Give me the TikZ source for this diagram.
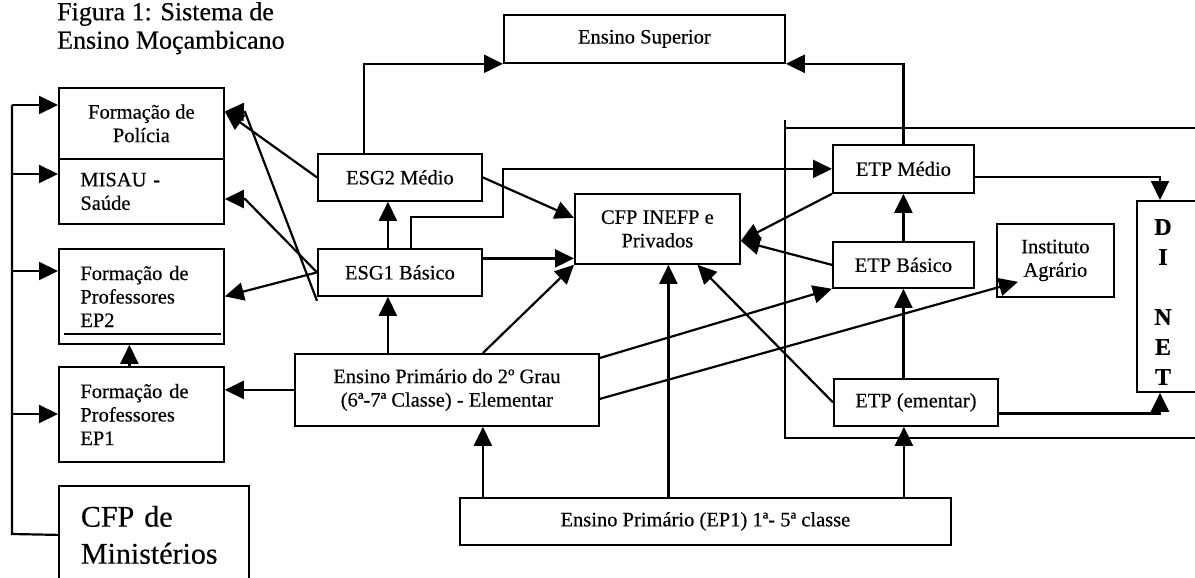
\documentclass[tikz,border=0pt]{standalone}
\usepackage{fontspec}
\setmainfont{Liberation Serif}[FakeBold=0.4]
\usepackage{tikz}
\usetikzlibrary{positioning,arrows.meta}
\tikzstyle{caixa} = [draw, line width=1.8pt, align=center, inner sep=2pt, anchor=north west, font=\fontsize{20.5}{23.5}\selectfont]
\tikzstyle{seta} = [line width=2.2pt, -{Triangle[length=19pt,width=18pt]}]

\begin{document}
\begin{tikzpicture}[x=1pt,y=-1pt]
			\useasboundingbox (0,0) rectangle (1195,578);
			\clip (0,0) rectangle (1195,578);
			\node[anchor=north west, align=left, inner sep=0pt, font=\fontsize{26}{28.5}\selectfont] (tit) at (57,2) {Figura 1: Sistema de\\Ensino Moçambicano};
			% coluna da esquerda
			\node[caixa, minimum width=165, minimum height=71] (pol) at (58,87) {Formação de\\Polícia};
			\node[caixa, minimum width=165, minimum height=65, text width=122, align=left] (mis) at (58,158) {MISAU -\\Saúde};
			\node[caixa, minimum width=165, minimum height=95, text width=122, align=left] (fp2) at (58,248) {Formação de\\Professores\\EP2};
			\node[caixa, minimum width=165, minimum height=95, text width=122, align=left] (fp1) at (58,366) {Formação de\\Professores\\EP1};
			\node[caixa, minimum width=190, minimum height=98, text width=146, align=left, font=\fontsize{30}{37}\selectfont] (cfm) at (58,485) {CFP de\\Ministérios};
			\draw[line width=1.5pt] ([shift={(6pt,11pt)}]fp2.south west) -- ([shift={(-4pt,11pt)}]fp2.south east);
			% ensino geral
			\node[caixa, minimum width=164, minimum height=47] (esm) at (317,153) {ESG2 Médio};
			\node[caixa, minimum width=164, minimum height=47] (esb) at (317,248) {ESG1 Básico};
			\node[caixa, minimum width=281, minimum height=48] (sup) at (503,14) {Ensino Superior};
			\node[caixa, minimum width=165, minimum height=70] (cfp) at (574,193) {CFP INEFP e\\Privados};
			\node[caixa, minimum width=304, minimum height=72] (ep2) at (294,353) {Ensino Primário do 2º Grau\\(6ª-7ª Classe) - Elementar};
			\node[caixa, minimum width=491, minimum height=47] (ep1) at (459,497) {Ensino Primário (EP1) 1ª- 5ª classe};
			% ensino tecnico
			\draw[line width=1.8pt] (785,120) -- (785,438) -- (1200,438);
			\draw[line width=1.8pt] (785,128) -- (1200,128);
			\node[caixa, minimum width=141, minimum height=48] (etm) at (832,144) {ETP Médio};
			\node[caixa, minimum width=141, minimum height=46] (etb) at (832,241) {ETP Básico};
			\node[caixa, minimum width=164, minimum height=47] (ete) at (833,378) {ETP (ementar)};
			\node[caixa, minimum width=117, minimum height=73] (agr) at (996,223) {Instituto\\Agrário};
			\node[caixa, minimum width=100, minimum height=191] (din) at (1136,200) {};
			\node[align=center, font=\fontsize{24}{30}\selectfont\bfseries] (dinl) at (1163,302) {D\\I\\[30pt]N\\E\\T};
			% barra da esquerda
			\draw[line width=2.2pt] (12,105) -- (12,534) -- (cfm.west);
			\foreach \y/\n in {105/pol, 174/mis, 271/fp2, 414/fp1}
				\draw[seta] (12,\y) -- (\n.west |- 0,\y);
			\draw[seta] ([xshift=-12pt]fp1.north) -- ([xshift=-12pt]fp2.south);
			\draw[seta] (ep2.west) -- (fp1.east |- ep2.west);
			\draw[seta] (esb.west) -- (fp2.east);
			\draw[seta] (esb.west) -- (245,199) -- (mis.east |- 0,199);
			\draw[seta] (esm.west) -- ([yshift=12pt]pol.east);
			\draw[seta] ([yshift=-4pt]esb.south west) -- (245,112) -- ([yshift=12pt]pol.east);
			% ensino geral
			\draw[seta] ([xshift=-12pt]esb.south |- ep2.north) -- ([xshift=-12pt]esb.south);
			\draw[seta] ([xshift=-12pt]esb.north) -- ([xshift=-12pt]esm.south);
			\draw[seta] ([xshift=-36pt]esm.north) |- (sup.south west);
			\draw[seta] (etm.north) |- (sup.south east);
			\draw[seta] (esm.east) -- ([yshift=11pt]cfp.west);
			\draw[seta] ([yshift=14pt]esb.east) -- ([yshift=14pt]esb.east -| cfp.west);
			\draw[seta] ([xshift=36pt]ep2.north) -- (cfp.south west);
			\draw[seta] ([xshift=11pt]esb.north) |- (503,217) |- (etm.west);
			\draw[seta] ([xshift=36pt]ep2.south |- ep1.north) -- ([xshift=36pt]ep2.south);
			\draw[seta] ([xshift=11pt]cfp.south |- ep1.north) -- ([xshift=11pt]cfp.south);
			% ensino tecnico
			\draw[seta] (etm.south west) -- ([yshift=-12pt]cfp.east);
			\draw[seta] (etb.west) -- ([yshift=-12pt]cfp.east);
			\draw[seta] (ete.west) -- ([xshift=40pt]cfp.south);
			\draw[seta] ([yshift=-5pt]ep2.north east) -- (etb.south west);
			\draw[seta] ([yshift=-9pt]ep2.east) -- ([shift={(22pt,16pt)}]agr.south west);
			\draw[seta] ([xshift=-12pt]ete.south |- ep1.north) -- ([xshift=-12pt]ete.south);
			\draw[seta] (etb.south |- ete.north) -- (etb.south);
			\draw[seta] (etb.north) -- (etm.south);
			\draw[seta] ([yshift=-8pt]etm.east) -| ([xshift=24pt]din.north west);
			\draw[seta] ([yshift=-11pt]ete.east) -| ([xshift=24pt]din.south west);
		\end{tikzpicture}
\end{document}
